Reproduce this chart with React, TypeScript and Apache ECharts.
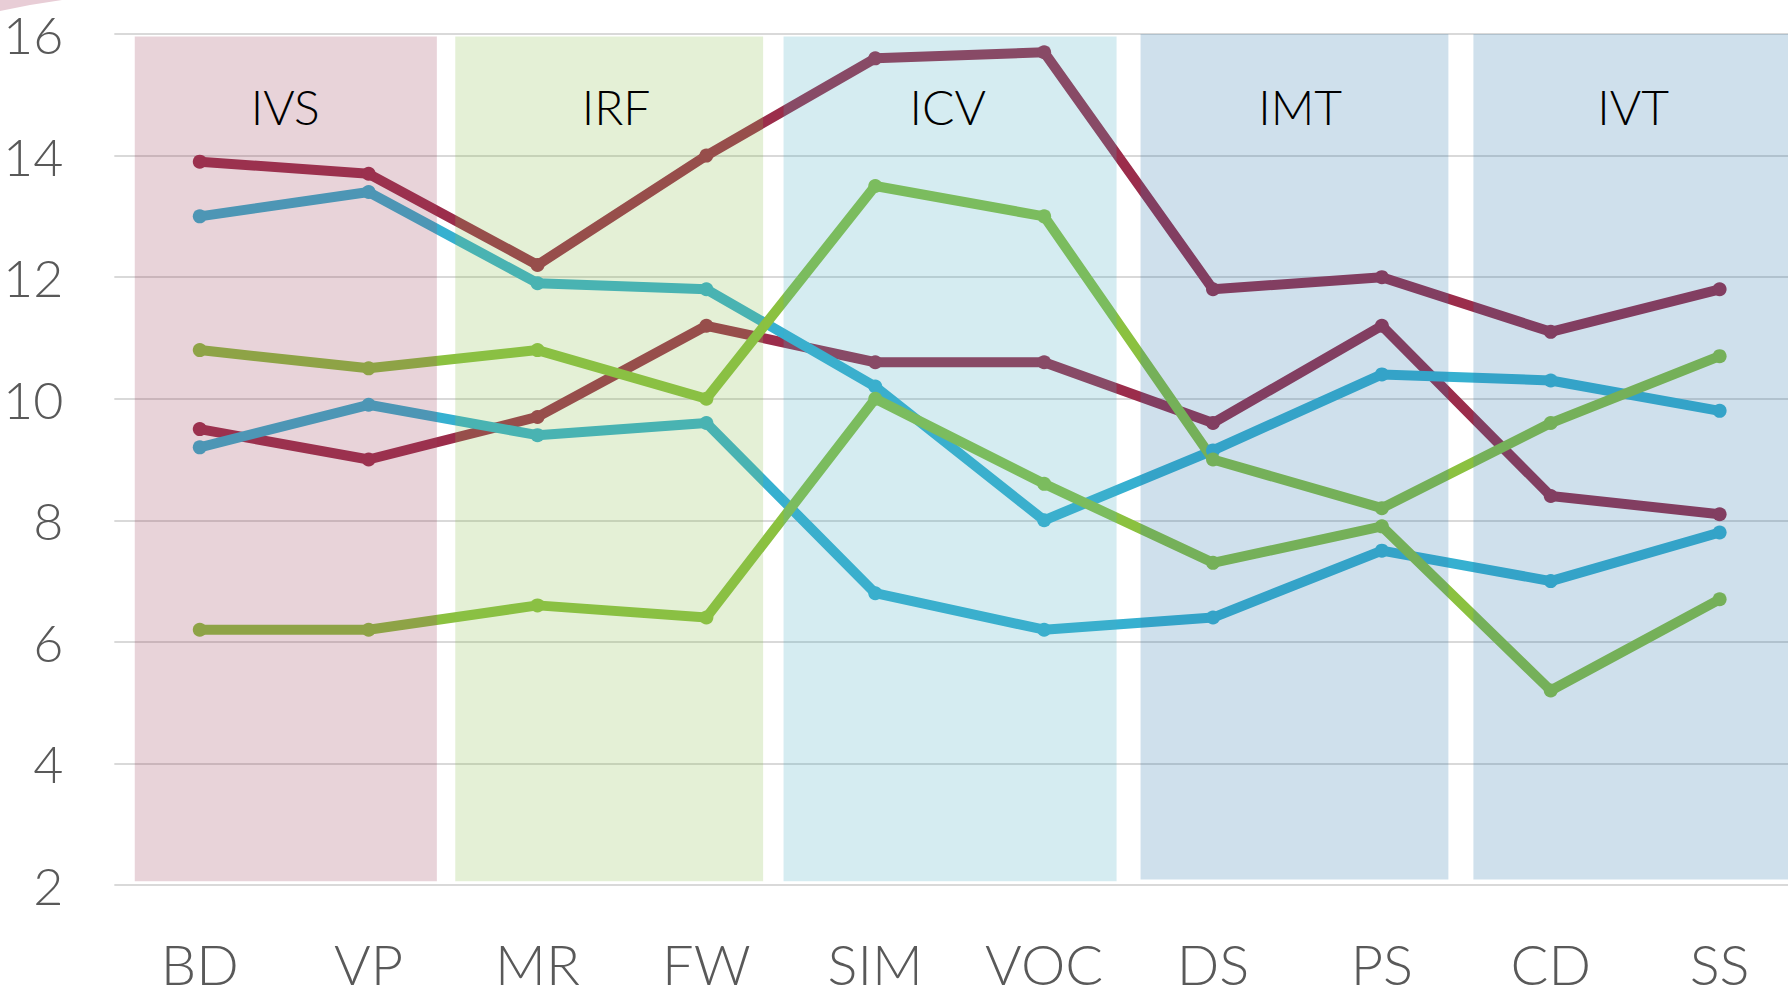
import React, { useEffect, useRef } from "react";
import * as echarts from "echarts";

const categories = ["BD", "VP", "MR", "FW", "SIM", "VOC", "DS", "PS", "CD", "SS"];

const crimsonA = [13.9, 13.7, 12.2, 14.0, 15.6, 15.7, 11.8, 12.0, 11.1, 11.8];
const crimsonB = [9.5, 9.0, 9.7, 11.2, 10.6, 10.6, 9.6, 11.2, 8.4, 8.1];
const blueA = [13.0, 13.4, 11.9, 11.8, 10.2, 8.0, 9.15, 10.4, 10.3, 9.8];
const blueB = [9.2, 9.9, 9.4, 9.6, 6.8, 6.2, 6.4, 7.5, 7.0, 7.8];
const greenA = [10.8, 10.5, 10.8, 10.0, 13.5, 13.0, 9.0, 8.2, 9.6, 10.7];
const greenB = [6.2, 6.2, 6.6, 6.4, 10.0, 8.6, 7.3, 7.9, 5.2, 6.7];

const yTicks = [2, 4, 6, 8, 10, 12, 14, 16];

// Groups (bands) drawn over the lines, in category units
const bandNames = ["IVS", "IRF", "ICV", "IMT", "IVT"];
const bandStart = [-0.385, 1.513, 3.457, 5.571, 7.542];
const bandEnd = [1.404, 3.336, 5.429, 7.394, 9.405];
const bandTop = [15.96, 15.96, 15.96, 16.0, 16.0];
const bandBottom = [2.06, 2.06, 2.06, 2.09, 2.09];
const bandLabelX = [0.506, 2.465, 4.429, 6.516, 8.488];
const bandLabelY = [14.8, 14.8, 14.8, 14.8, 14.8];

const bandFill = [
  "rgba(155,64,90,0.23)",
  "rgba(137,190,77,0.23)",
  "rgba(72,172,194,0.23)",
  "rgba(46,120,172,0.23)",
  "rgba(46,120,172,0.23)",
];

const CRIMSON = "#9B2D4B";
const BLUE = "#36B0D0";
const GREEN = "#8BC140";
const FONT = "Lato, 'Open Sans', sans-serif";

export default function App() {
  const ref = useRef<HTMLDivElement>(null);

  useEffect(() => {
    if (!ref.current) return;
    const chart = echarts.init(ref.current, null, { renderer: "svg" });

    const mkLine = (name: string, values: number[], color: string) => ({
      name,
      type: "line",
      z: 2,
      data: values.map((v, i) => [i, v]),
      symbol: "circle",
      symbolSize: 14,
      lineStyle: { color, width: 10, join: "round" },
      itemStyle: { color },
      emphasis: { disabled: true },
    });

    const bandData = bandNames.map((n, i) => [
      bandStart[i],
      bandEnd[i],
      bandTop[i],
      bandBottom[i],
      bandLabelX[i],
      bandLabelY[i],
      i,
    ]);

    chart.setOption({
      animation: false,
      backgroundColor: "#ffffff",
      grid: { left: 114, right: 0, top: 34, bottom: 112, containLabel: false },
      xAxis: {
        type: "value",
        min: -0.506,
        max: 9.405,
        axisLine: { show: false },
        axisTick: { show: false },
        splitLine: { show: false },
        axisLabel: {
          customValues: categories.map((_, i) => i),
          formatter: (v: number) => categories[Math.round(v)] ?? "",
          fontSize: 56,
          fontWeight: 300,
          fontFamily: FONT,
          color: "#595959",
          margin: 50,
          lineHeight: 56,
        },
      },
      yAxis: {
        type: "value",
        min: 2,
        max: 16,
        interval: 2,
        axisLine: { show: false },
        axisTick: { show: false },
        splitLine: { lineStyle: { color: "#d9d9d9", width: 2 } },
        axisLabel: {
          fontSize: 52,
          fontWeight: 300,
          fontFamily: FONT,
          color: "#595959",
          margin: 51,
          formatter: (v: number) => (yTicks.includes(v) ? String(v) : ""),
        },
      },
      series: [
        mkLine("Crimson A", crimsonA, CRIMSON),
        mkLine("Crimson B", crimsonB, CRIMSON),
        mkLine("Blue A", blueA, BLUE),
        mkLine("Blue B", blueB, BLUE),
        mkLine("Green A", greenA, GREEN),
        mkLine("Green B", greenB, GREEN),
        {
          type: "custom",
          z: 5,
          silent: true,
          data: bandData,
          encode: { x: [0, 1, 4], y: [2, 3, 5] },
          renderItem: (params: any, api: any) => {
            const p1 = api.coord([api.value(0), api.value(2)]);
            const p2 = api.coord([api.value(1), api.value(3)]);
            const lp = api.coord([api.value(4), api.value(5)]);
            const idx = api.value(6);
            return {
              type: "group",
              children: [
                {
                  type: "rect",
                  shape: { x: p1[0], y: p1[1], width: p2[0] - p1[0], height: p2[1] - p1[1] },
                  style: { fill: bandFill[idx] },
                },
                {
                  type: "text",
                  style: {
                    text: bandNames[idx],
                    x: lp[0],
                    y: lp[1],
                    fill: "#000000",
                    fontSize: 48,
                    fontWeight: 300,
                    fontFamily: FONT,
                    align: "center",
                    verticalAlign: "middle",
                  },
                },
              ],
            };
          },
        },
      ],
      graphic: [
        {
          type: "polygon",
          shape: { points: [[0, 0], [62, 0], [30, 5], [0, 11]] },
          style: { fill: "#e8cdd6" },
        },
      ],
    });

    return () => chart.dispose();
  }, []);

  return (
    <div
      ref={ref}
      style={{ position: "absolute", left: 0, top: 0, width: 1788, height: 997 }}
    />
  );
}
